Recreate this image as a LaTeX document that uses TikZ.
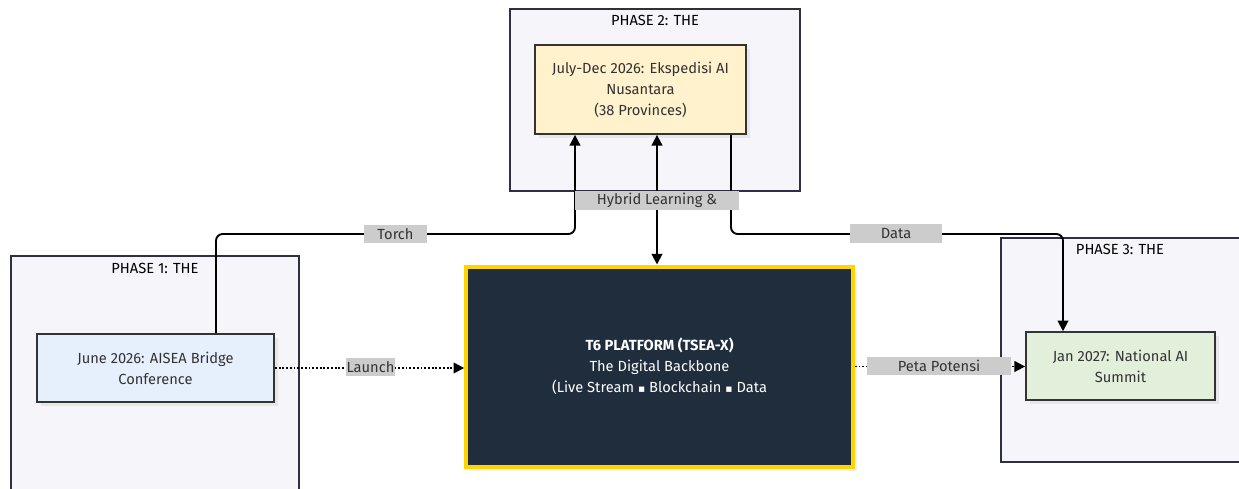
\documentclass[tikz,border=0pt]{standalone}
\usepackage{fontspec}
\setmainfont{Fira Sans}
\newfontfamily\symfont{DejaVu Sans}
\usetikzlibrary{shadows,arrows.meta}

\definecolor{clusterfill}{HTML}{F5F5FA}
\definecolor{clusterline}{HTML}{2E2E45}
\definecolor{nodeline}{HTML}{333333}
\definecolor{nodetext}{HTML}{333333}
\definecolor{julyfill}{HTML}{FFF2CC}
\definecolor{junefill}{HTML}{E6F0FD}
\definecolor{janfill}{HTML}{E2EFDA}
\definecolor{platfill}{HTML}{1F2D3D}
\definecolor{platline}{HTML}{FFD500}
\definecolor{lblgray}{HTML}{CCCCCC}

\newcommand{\sq}{{\symfont\fontsize{8}{9}\selectfont ▪}}

\tikzset{
	phasebox/.style={draw=clusterline, fill=clusterfill, line width=1.2pt},
	phasetitle/.style={text=black, font=\fontsize{11}{13}\selectfont, inner sep=0pt},
	stage/.style={draw=nodeline, line width=1.1pt, text=nodetext, align=center,
		font=\fontsize{11}{15.75}\selectfont, inner sep=0pt,
		drop shadow={opacity=0.12, shadow xshift=3pt, shadow yshift=-3pt}},
	tip/.tip={Triangle[length=8pt, width=8pt]},
	flow/.style={draw=black, line width=1.4pt, -tip},
	dotflow/.style={flow, dash pattern=on 1.4pt off 1.4pt},
	lbl/.style={fill=lblgray, text=nodetext, font=\fontsize{11}{13}\selectfont,
		inner xsep=0pt, inner ysep=0pt, minimum height=14pt}
}

\begin{document}
\begin{tikzpicture}[x=0.75pt, y=-0.75pt]

	\useasboundingbox (0,0) rectangle (1239,489);
	\clip (0,0) rectangle (1239,489);

	% phase frames
	\draw[phasebox] (11,256) rectangle (299,500);
	\draw[phasebox] (510,9) rectangle (800,191);
	\draw[phasebox] (1001,238) rectangle (1250,462);
	\node[phasetitle] (p1title) at (155,268) {PHASE 1: THE};
	\node[phasetitle] (p2title) at (655,20) {PHASE 2: THE};
	\node[phasetitle] (p3title) at (1120,249) {PHASE 3: THE};

	% stages
	\node[stage, fill=julyfill, minimum width=158pt, minimum height=67pt] (july) at (640.5,89.5)
		{July-Dec 2026: Ekspedisi AI\\Nusantara\\(38 Provinces)};
	\node[stage, fill=junefill, minimum width=178pt, minimum height=51pt] (june) at (155.5,368)
		{June 2026: AISEA Bridge\\Conference};
	\node[stage, fill=janfill, minimum width=142pt, minimum height=51pt] (jan) at (1120.5,366)
		{Jan 2027: National AI\\Summit};
	\node[stage, fill=platfill, draw=platline, line width=3pt, text=white,
		minimum width=290pt, minimum height=150pt] (t6) at (659.5,366.5)
		{\textbf{T6 PLATFORM (TSEA-X)}\\The Digital Backbone\\(Live Stream \sq\ Blockchain \sq\ Data};

	% bends
	\coordinate (torchfoot) at (216,234);
	\coordinate (torchbend) at (575,234);
	\coordinate (databend) at (731,234);
	\coordinate (datadrop) at (1063,234);

	% links
	\draw[flow, rounded corners=5pt] (june.north -| torchfoot) -- (torchfoot) -- (torchbend) -- (july.south -| torchbend);
	\draw[flow, tip-tip] (t6.north -| 657,0) -- (july.south -| 657,0);
	\draw[flow, rounded corners=5pt] (july.south -| databend) -- (databend) -- (datadrop) -- (jan.north -| datadrop);
	\draw[dotflow] (june.east) -- (june.east -| t6.west);
	\draw[dotflow] (t6.east) -- (t6.east -| jan.west);

	% labels
	\node[lbl, minimum width=47pt] (torch) at (395.5,234) {Torch};
	\node[lbl, minimum width=123pt] (hybrid) at (657,200.5) {Hybrid Learning \&};
	\node[lbl, minimum width=69pt] (data) at (896,233.5) {Data};
	\node[lbl, minimum width=37pt] (launch) at (370.5,367) {Launch};
	\node[lbl, minimum width=108pt] (peta) at (939,366) {Peta Potensi};

\end{tikzpicture}
\end{document}
